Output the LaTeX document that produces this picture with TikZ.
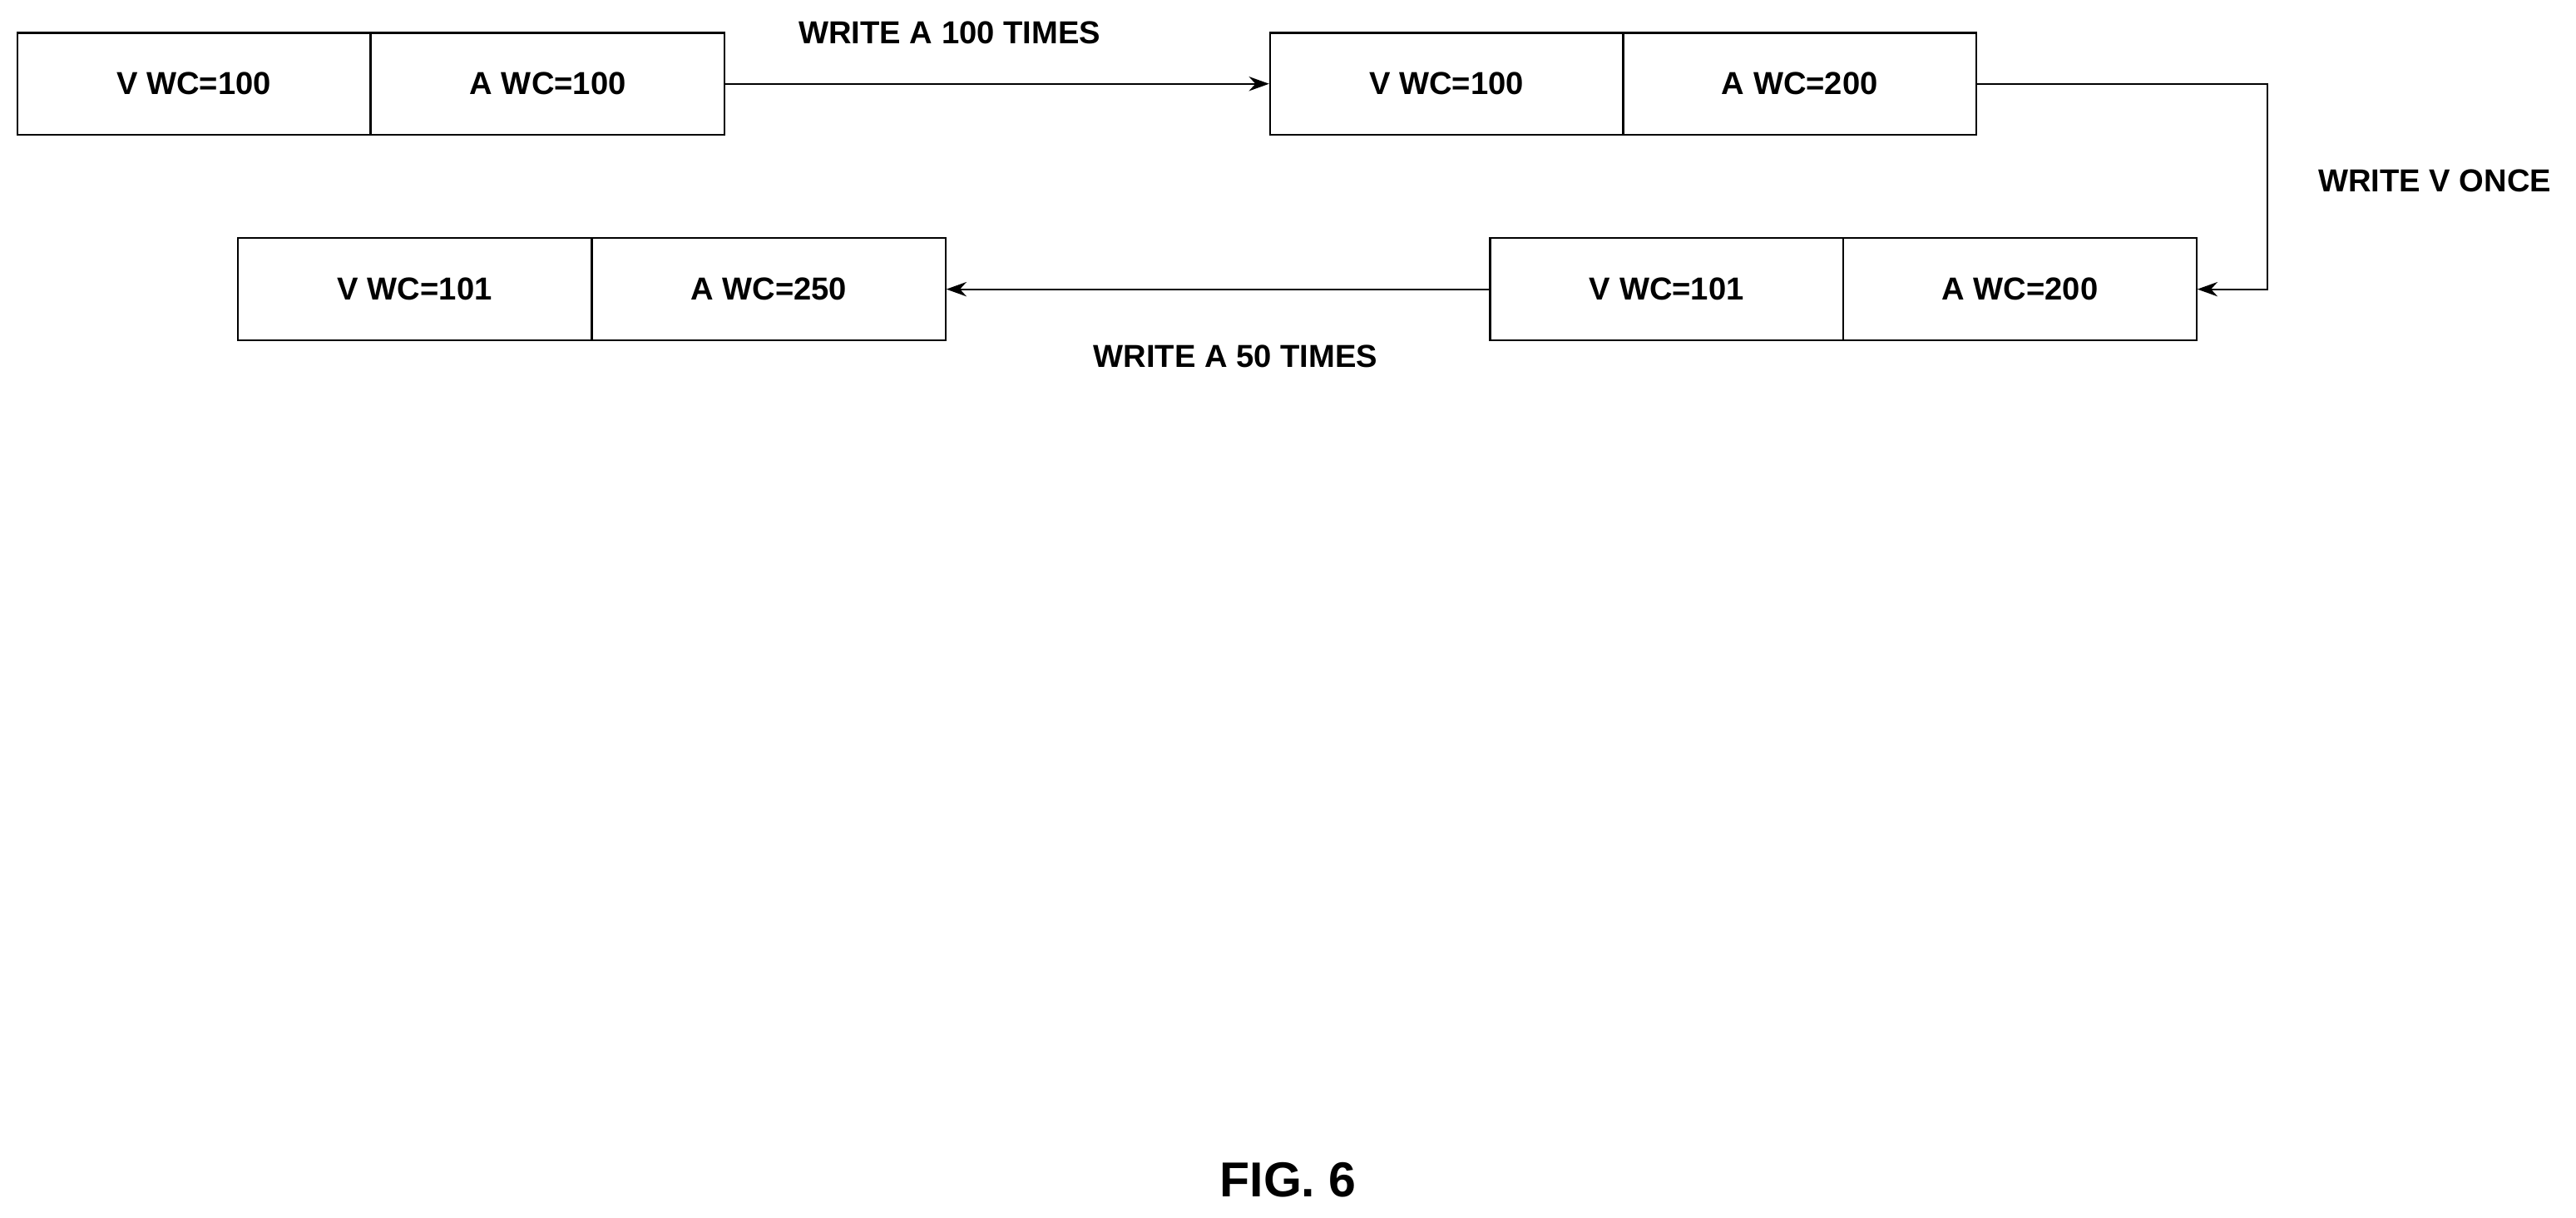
\documentclass[tikz,border=0pt]{standalone}
\usepackage{fontspec}
\setmainfont{Liberation Sans}
\usetikzlibrary{arrows.meta}
\begin{document}
\begin{tikzpicture}[x=0.02cm,y=-0.02cm,
  cell/.style={draw,line width=0.6pt,minimum width=4.3cm,minimum height=1.24cm,inner sep=0,font=\bfseries\fontsize{11}{13}\selectfont},
  lab/.style={font=\bfseries\fontsize{11}{13}\selectfont},
  arr/.style={-{Stealth[length=7pt,width=5pt]},line width=0.6pt}]
\useasboundingbox (0,0) rectangle (1568,741);
\node[cell] (a1) at (118,51) {V WC=100};
\node[cell] (a2) at (333.5,51) {A WC=100};
\node[cell] (b1) at (880.5,51) {V WC=100};
\node[cell] (b2) at (1095.5,51) {A WC=200};
\node[cell] (c1) at (1014.5,176) {V WC=101};
\node[cell] (c2) at (1229.5,176) {A WC=200};
\node[cell] (d1) at (252.5,176) {V WC=101};
\node[cell] (d2) at (468,176) {A WC=250};
\coordinate (t) at (1380,51);
\coordinate (u) at (1380,176);
\draw[arr] (a2.east) -- (b1.west);
\draw[arr] (b2.east) -- (t) -- (u) -- (c2.east);
\draw[arr] (c1.west) -- (d2.west -| d2.east);
\node[lab] (l1) at (578,20) {WRITE A 100 TIMES};
\node[lab] (l2) at (1482,110) {WRITE V ONCE};
\node[lab] (l3) at (752,217) {WRITE A 50 TIMES};
\node[font=\bfseries\fontsize{17}{20}\selectfont] (f) at (784,718) {FIG. 6};
\end{tikzpicture}
\end{document}
